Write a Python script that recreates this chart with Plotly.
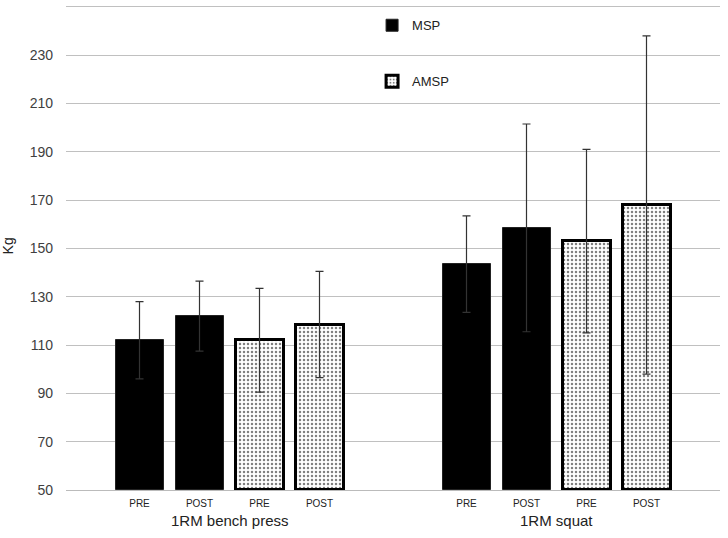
import plotly.graph_objects as go

groups = ["1RM bench press", "1RM squat"]
times = ["PRE", "POST"]
series = ["MSP", "AMSP"]
y_ticks = [50, 70, 90, 110, 130, 150, 170, 190, 210, 230, 250]

msp_bench = [112, 122]
msp_bench_sd = [16, 14.5]
amsp_bench = [112, 118.5]
amsp_bench_sd = [21.5, 22]
msp_squat = [143.5, 158.5]
msp_squat_sd = [20, 43]
amsp_squat = [153, 168]
amsp_squat_sd = [38, 70]

slot = 60 / 327.0
bw = 48 / 327.0

def xs(series_idx):
    out = []
    for g in range(len(groups)):
        for t in range(len(times)):
            k = series_idx * 2 + t
            out.append(g + (k - 1.5) * slot)
    return out

msp_vals = msp_bench + msp_squat
msp_sd = msp_bench_sd + msp_squat_sd
amsp_vals = amsp_bench + amsp_squat
amsp_sd = amsp_bench_sd + amsp_squat_sd

fig = go.Figure()
fig.add_trace(go.Bar(
    name=series[0], x=xs(0), y=[v - 50 for v in msp_vals], base=50, width=bw,
    marker=dict(color="black", line=dict(color="#222", width=1)),
    error_y=dict(type="data", array=msp_sd, color="#333", thickness=1.2, width=4),
    legendgroup="a",
))
fig.add_trace(go.Bar(
    name=series[1], x=xs(1), y=[v - 50 for v in amsp_vals], base=50, width=bw,
    marker=dict(color="white", line=dict(color="black", width=3),
                pattern=dict(shape=".", fgcolor="black", bgcolor="white", size=4, solidity=0.3)),
    error_y=dict(type="data", array=amsp_sd, color="#333", thickness=1.2, width=4),
    legendgroup="b",
))

tickvals = sorted(xs(0) + xs(1))
ticktext = []
for g in range(len(groups)):
    for s in range(2):
        ticktext += times

fig.update_layout(
    width=728, height=538,
    margin=dict(l=66, r=8, t=2, b=48, autoexpand=False),
    paper_bgcolor="white", plot_bgcolor="white",
    font=dict(family="Liberation Sans, Arial, sans-serif", color="#404040"),
    showlegend=True,
    legend=dict(x=0.468, y=0.983, xanchor="left", yanchor="top",
                font=dict(size=13, color="#222"), tracegroupgap=36,
                traceorder="grouped", bgcolor="rgba(0,0,0,0)", itemwidth=30),
    bargap=0,
    xaxis=dict(range=[-0.5, 1.5], tickvals=tickvals, ticktext=ticktext,
               tickfont=dict(size=10, color="#222"), showgrid=False, zeroline=False,
               showline=True, linecolor="#bbbbbb", linewidth=1, ticks="",
               ticklabelstandoff=4, automargin=False),
    yaxis=dict(range=[50, 252], tickmode="array", tickvals=y_ticks, showgrid=True,
               gridcolor="#c0c0c0", gridwidth=1, zeroline=False,
               tickfont=dict(size=14, color="#404040"),
               ticklabelstandoff=12, showline=False, automargin=False),
)

for g, name in enumerate(groups):
    fig.add_annotation(x=g, y=0, xref="x", yref="paper", yshift=-20, text=name,
                       showarrow=False, yanchor="top", font=dict(size=15, color="#222"))

fig.add_annotation(x=-0.088, y=0.5, xref="paper", yref="paper", text="Kg",
                   xanchor="center", yanchor="middle",
                   textangle=-90, showarrow=False, font=dict(size=14, color="#222"))

fig.write_html("out.html", config={"displayModeBar": False},
               post_script="document.body.style.margin='0px';")
